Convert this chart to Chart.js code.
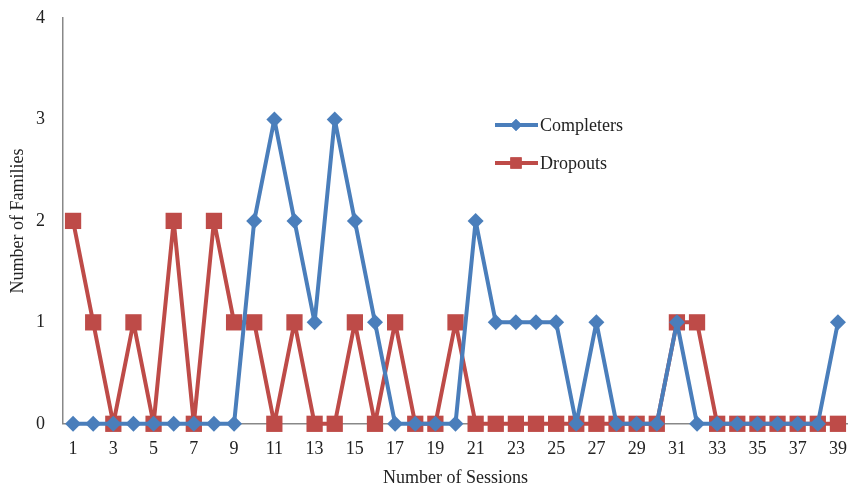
<!DOCTYPE html>
<html>
<head>
<meta charset="utf-8">
<script src="https://cdn.jsdelivr.net/npm/chart.js@4"></script>
<style>
  html, body { margin: 0; padding: 0; background: #fff; }
  #wrap { width: 848px; height: 489px; }
</style>
</head>
<body>
<div id="wrap"><canvas id="lineChart" width="848" height="489"></canvas></div>
<script>
const sessions = [];
for (let i = 1; i <= 39; i++) sessions.push(String(i));

const completers = [0,0,0,0,0,0,0,0,0,2, 3,2,1,3,2,1,0,0,0,0, 2,1,1,1,1,0,1,0,0,0, 1,0,0,0,0,0,0,0,1];
const dropouts   = [2,1,0,1,0,2,0,2,1,1, 0,1,0,0,1,0,1,0,0,1, 0,0,0,0,0,0,0,0,0,0, 1,1,0,0,0,0,0,0,0];

const yTicks = [0, 1, 2, 3, 4];

const blue = '#4a7ebb';
const red = '#be4b48';
const serif = "'Liberation Serif', 'Times New Roman', serif";

// legend drawn inside the plot, like the original
const insideLegend = {
  id: 'insideLegend',
  afterDraw(chart) {
    const ctx = chart.ctx;
    const items = [
      { label: 'Completers', color: blue, style: 'rectRot', r: 6, y: 125 },
      { label: 'Dropouts', color: red, style: 'rect', r: 8, y: 163 }
    ];
    ctx.save();
    items.forEach(it => {
      ctx.strokeStyle = it.color;
      ctx.lineWidth = 4;
      ctx.beginPath();
      ctx.moveTo(495, it.y);
      ctx.lineTo(538, it.y);
      ctx.stroke();
      ctx.fillStyle = it.color;
      Chart.helpers.drawPoint(ctx, { pointStyle: it.style, radius: it.r, borderWidth: 0 }, 516, it.y);
      ctx.fill();
      ctx.fillStyle = '#222';
      ctx.font = '18px ' + serif;
      ctx.textBaseline = 'middle';
      ctx.fillText(it.label, 540, it.y + 1);
    });
    ctx.restore();
  }
};

const ctxLine = document.getElementById('lineChart').getContext('2d');
const lineChart = new Chart(ctxLine, {
  type: 'line',
  data: {
    labels: sessions,
    datasets: [{
      label: 'Completers',
      data: completers,
      borderColor: blue,
      backgroundColor: blue,
      borderWidth: 4,
      borderJoinStyle: 'round',
      pointStyle: 'rectRot',
      pointRadius: 8,
      pointBorderWidth: 0,
      tension: 0,
      clip: false
    }, {
      label: 'Dropouts',
      data: dropouts,
      borderColor: red,
      backgroundColor: red,
      borderWidth: 4,
      borderJoinStyle: 'round',
      pointStyle: 'rect',
      pointRadius: 11.5,
      pointBorderWidth: 0,
      tension: 0,
      clip: false
    }]
  },
  options: {
    responsive: false,
    animation: false,
    layout: { autoPadding: false, padding: { top: 18, right: -4, left: 0, bottom: 0 } },
    plugins: {
      legend: { display: false },
      tooltip: { enabled: false }
    },
    scales: {
      x: {
        offset: true,
        grid: { display: false, drawTicks: false },
        border: { color: '#888', width: 1.5 },
        afterFit: axis => { axis.paddingLeft = 0; axis.paddingRight = 0; },
        ticks: {
          color: '#222',
          font: { family: serif, size: 18 },
          maxRotation: 0,
          autoSkip: false,
          padding: 15,
          callback: function(val, idx) { return idx % 2 === 0 ? sessions[idx] : ''; }
        },
        title: {
          display: true,
          text: 'Number of Sessions',
          color: '#222',
          font: { family: serif, size: 18 },
          padding: { top: -8, bottom: 0 }
        }
      },
      y: {
        min: yTicks[0],
        max: yTicks[yTicks.length - 1],
        grid: { display: false, drawTicks: false },
        border: { color: '#888', width: 1.5 },
        afterBuildTicks: axis => { axis.ticks = yTicks.map(v => ({ value: v })); },
        afterFit: axis => { axis.paddingTop = 0; axis.paddingBottom = 0; axis.width = 63; },
        ticks: {
          color: '#222',
          font: { family: serif, size: 18 },
          padding: 18
        },
        title: {
          display: true,
          text: 'Number of Families',
          color: '#222',
          font: { family: serif, size: 18 },
          padding: { top: 7, bottom: 0 }
        }
      }
    }
  },
  plugins: [insideLegend]
});
</script>
</body>
</html>
